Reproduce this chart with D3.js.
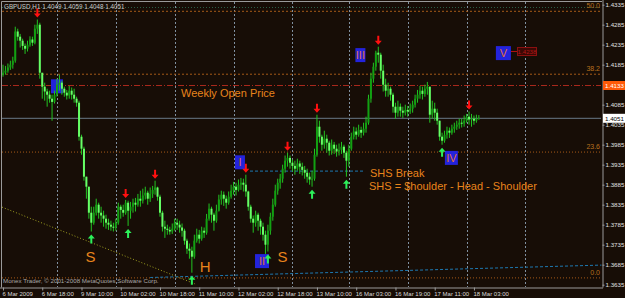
<!DOCTYPE html>
<html>
<head>
<meta charset="utf-8">
<script src="https://cdn.jsdelivr.net/npm/d3@7/dist/d3.min.js"></script>
<style>
html, body { margin: 0; padding: 0; background: #170d06; }
svg { display: block; }
text { font-family: "Liberation Sans", Arial, sans-serif; }
</style>
</head>
<body>
<svg class="chart" width="625" height="298"></svg>
<script>
// GBPUSD H1, one value per hourly bar (open = previous close)
var firstOpen = 1.4160;
var closes = [1.4165,1.4170,1.4178,1.4185,1.4195,1.4268,1.4255,1.4245,1.4232,1.4225,
    1.4235,1.4248,1.4240,1.4275,1.4285,1.4165,1.4130,1.4118,1.4110,1.4100,
    1.4092,1.4110,1.4135,1.4140,1.4125,1.4115,1.4108,1.4120,1.4110,1.4100,
    1.4090,1.4005,1.3975,1.3905,1.3880,1.3815,1.3790,1.3815,1.3835,1.3815,
    1.3808,1.3800,1.3790,1.3785,1.3780,1.3778,1.3790,1.3830,1.3822,1.3815,
    1.3840,1.3820,1.3830,1.3840,1.3835,1.3850,1.3845,1.3858,1.3865,1.3850,
    1.3862,1.3872,1.3878,1.3855,1.3815,1.3780,1.3775,1.3772,1.3768,1.3775,
    1.3790,1.3785,1.3778,1.3770,1.3745,1.3725,1.3720,1.3705,1.3745,1.3760,
    1.3750,1.3770,1.3765,1.3800,1.3825,1.3810,1.3795,1.3820,1.3848,1.3860,
    1.3850,1.3840,1.3855,1.3870,1.3880,1.3872,1.3885,1.3890,1.3885,1.3868,
    1.3830,1.3800,1.3790,1.3810,1.3795,1.3780,1.3760,1.3735,1.3770,1.3805,
    1.3835,1.3870,1.3890,1.3900,1.3925,1.3945,1.3952,1.3940,1.3932,1.3925,
    1.3938,1.3930,1.3922,1.3915,1.3905,1.3898,1.3900,1.3960,1.4030,1.4005,
    1.3985,1.4000,1.3990,1.3970,1.3985,1.3975,1.3968,1.3972,1.3980,1.3965,
    1.3945,1.3975,1.4005,1.4018,1.4010,1.4022,1.4015,1.4025,1.4040,1.4100,
    1.4150,1.4180,1.4215,1.4210,1.4170,1.4135,1.4120,1.4125,1.4110,1.4080,
    1.4065,1.4080,1.4070,1.4065,1.4072,1.4068,1.4075,1.4085,1.4100,1.4110,
    1.4120,1.4112,1.4125,1.4130,1.4060,1.4075,1.4065,1.4045,1.4005,1.3995,
    1.4010,1.4020,1.4015,1.4025,1.4030,1.4035,1.4040,1.4038,1.4045,1.4055,
    1.4048,1.4050,1.4045,1.4049,1.4051];
var highs = [1.4185,1.4182,1.4188,1.4195,1.4205,1.4280,1.4275,1.4262,1.4250,1.4238,
    1.4245,1.4256,1.4255,1.4285,1.4298,1.4290,1.4160,1.4140,1.4125,1.4120,
    1.4110,1.4120,1.4150,1.4160,1.4145,1.4130,1.4122,1.4132,1.4128,1.4125,
    1.4105,1.4095,1.4010,1.3980,1.3905,1.3880,1.3830,1.3830,1.3850,1.3840,
    1.3830,1.3820,1.3810,1.3800,1.3795,1.3790,1.3800,1.3840,1.3835,1.3835,
    1.3847,1.3845,1.3842,1.3850,1.3852,1.3862,1.3870,1.3875,1.3880,1.3870,
    1.3878,1.3882,1.3895,1.3880,1.3860,1.3820,1.3795,1.3785,1.3780,1.3788,
    1.3800,1.3800,1.3795,1.3788,1.3775,1.3750,1.3738,1.3730,1.3760,1.3775,
    1.3772,1.3780,1.3778,1.3812,1.3838,1.3830,1.3815,1.3835,1.3860,1.3870,
    1.3868,1.3858,1.3868,1.3885,1.3892,1.3890,1.3898,1.3902,1.3900,1.3910,
    1.3870,1.3835,1.3808,1.3820,1.3815,1.3800,1.3790,1.3770,1.3785,1.3815,
    1.3850,1.3885,1.3900,1.3912,1.3935,1.3958,1.3965,1.3958,1.3948,1.3945,
    1.3950,1.3945,1.3940,1.3932,1.3925,1.3915,1.3920,1.3975,1.4060,1.4045,
    1.4010,1.4020,1.4010,1.3995,1.3998,1.3992,1.3985,1.3988,1.3992,1.3985,
    1.3970,1.3985,1.4015,1.4030,1.4028,1.4035,1.4030,1.4040,1.4055,1.4110,
    1.4165,1.4190,1.4220,1.4230,1.4215,1.4185,1.4150,1.4140,1.4130,1.4115,
    1.4090,1.4095,1.4088,1.4080,1.4085,1.4082,1.4088,1.4095,1.4110,1.4122,
    1.4132,1.4130,1.4135,1.4142,1.4130,1.4095,1.4090,1.4075,1.4045,1.4015,
    1.4020,1.4030,1.4028,1.4035,1.4040,1.4045,1.4050,1.4050,1.4058,1.4062,
    1.4068,1.4062,1.4058,1.4060,1.4059];
var lows = [1.4155,1.4160,1.4165,1.4172,1.4175,1.4190,1.4245,1.4228,1.4222,1.4212,
    1.4218,1.4230,1.4232,1.4236,1.4262,1.4150,1.4100,1.4095,1.4080,1.4090,
    1.4045,1.4088,1.4105,1.4120,1.4110,1.4105,1.4098,1.4100,1.4098,1.4090,
    1.4080,1.3995,1.3960,1.3895,1.3850,1.3800,1.3768,1.3785,1.3808,1.3800,
    1.3790,1.3780,1.3775,1.3772,1.3770,1.3768,1.3770,1.3785,1.3800,1.3805,
    1.3810,1.3782,1.3800,1.3815,1.3818,1.3830,1.3830,1.3838,1.3848,1.3835,
    1.3842,1.3852,1.3860,1.3845,1.3805,1.3768,1.3752,1.3760,1.3760,1.3762,
    1.3770,1.3772,1.3765,1.3755,1.3735,1.3712,1.3700,1.3665,1.3700,1.3740,
    1.3738,1.3745,1.3752,1.3760,1.3795,1.3790,1.3770,1.3790,1.3818,1.3835,
    1.3832,1.3825,1.3835,1.3850,1.3860,1.3858,1.3868,1.3872,1.3868,1.3855,
    1.3820,1.3790,1.3765,1.3780,1.3770,1.3760,1.3745,1.3712,1.3718,1.3760,
    1.3795,1.3830,1.3860,1.3875,1.3890,1.3915,1.3930,1.3925,1.3918,1.3910,
    1.3920,1.3912,1.3908,1.3900,1.3890,1.3885,1.3880,1.3895,1.3955,1.3990,
    1.3970,1.3975,1.3965,1.3958,1.3960,1.3962,1.3955,1.3958,1.3962,1.3952,
    1.3905,1.3930,1.3970,1.3998,1.3998,1.4005,1.4002,1.4008,1.4015,1.4035,
    1.4090,1.4140,1.4170,1.4190,1.4150,1.4118,1.4105,1.4105,1.4095,1.4065,
    1.4050,1.4055,1.4055,1.4052,1.4058,1.4055,1.4062,1.4065,1.4078,1.4090,
    1.4100,1.4098,1.4105,1.4110,1.4040,1.4050,1.4045,1.4035,1.3995,1.3985,
    1.3990,1.4000,1.4002,1.4010,1.4015,1.4022,1.4025,1.4028,1.4030,1.4040,
    1.4035,1.4030,1.4035,1.4040,1.4048];

var timeLabels = ["6 Mar 2009","6 Mar 18:00","9 Mar 10:00","10 Mar 02:00","10 Mar 18:00",
    "11 Mar 10:00","12 Mar 02:00","12 Mar 18:00","13 Mar 10:00","16 Mar 03:00",
    "16 Mar 19:00","17 Mar 11:00","18 Mar 03:00"];
var timeLabelBars = [0,16,32,48,64,80,96,112,128,144,160,176,192];
var dayStartBars = [22,46,70,94,118,141,165,189,213];
var priceTicks = [1.3635,1.3685,1.3735,1.3785,1.3835,1.3885,1.3935,1.3985,1.4035,
    1.4085,1.4185,1.4235,1.4285,1.4335];

var fibNames = ["0.0","23.6","38.2","50.0"];
var fibRatios = [0, 0.236, 0.382, 0.5];
var fibLow = 1.3652, fibHigh = 1.4985;
var weeklyOpen = 1.4133;
var lastPrice = 1.4051;

var redArrowBars = [14,50,62,99,116,128,153,190];
var greenArrowBars = [36,51,77,108,126,140,179];

var waveLabels = ["", "I", "II", "III", "IV", "V"];
var waveBars = [22.0, 96.6, 105.6, 145.7, 182.8, 204];
var wavePrices = [1.4131, 1.3941, 1.3694, 1.4209, 1.3952, 1.4214];
var waveBoxW = [12, 10, 14, 10, 13, 15];

var shsLetters = ["S","H","S"];
var shsBars = [35.7, 82.4, 114];
var shsPrices = [1.3692, 1.3667, 1.3692];

var necklineBars = [100.7, 147.6], necklinePrice = 1.3919;
var blueTrendBars = [60, 244], blueTrendPrices = [1.3653, 1.3684];
var yellowTrendBars = [-0.4, 78.3], yellowTrendPrices = [1.3829, 1.3637];

// scales
var x = d3.scaleLinear().domain([0, 244]).range([3, 601.5]);
var y = d3.scaleLinear().domain([1.3635, 1.4335]).range([284.7, 4.7]);

var svg = d3.select(".chart");
var orange = "#e8841c";

svg.append("rect").attr("width", 625).attr("height", 298).attr("fill", "#170d06");

// frame
svg.append("line").attr("x1", 1.5).attr("x2", 602).attr("y1", 1.5).attr("y2", 1.5)
    .attr("stroke", "#9a9a9a");
svg.append("line").attr("x1", 1.5).attr("x2", 1.5).attr("y1", 1.5).attr("y2", 287.5)
    .attr("stroke", "#9a9a9a");
svg.append("line").attr("x1", 2).attr("x2", 602).attr("y1", 7.5).attr("y2", 7.5)
    .attr("stroke", "#2b5d45").attr("stroke-dasharray", "1,2");

// day separators
svg.append("g").selectAll("line").data(dayStartBars).enter().append("line")
    .attr("x1", function(d) { return Math.round(x(d)) + 0.5; })
    .attr("x2", function(d) { return Math.round(x(d)) + 0.5; })
    .attr("y1", 2).attr("y2", 287)
    .attr("stroke", "#8090a0").attr("stroke-dasharray", "2,2");

// fibonacci levels
svg.append("g").selectAll("line").data(fibRatios).enter().append("line")
    .attr("x1", 2).attr("x2", 601)
    .attr("y1", function(d) { return y(fibLow + d * (fibHigh - fibLow)); })
    .attr("y2", function(d) { return y(fibLow + d * (fibHigh - fibLow)); })
    .attr("stroke", "#a55a18").attr("stroke-dasharray", function(d) { return d < 0.3 ? "1,2" : "2,2"; });
svg.append("g").selectAll("text").data(fibRatios).enter().append("text")
    .attr("x", 600).attr("y", function(d) { return y(fibLow + d * (fibHigh - fibLow)) - 3; })
    .attr("text-anchor", "end").attr("font-size", 7).attr("fill", "#b8701e")
    .text(function(d, i) { return fibNames[i]; });

// weekly open and last price lines
svg.append("line").attr("x1", 2).attr("x2", 601)
    .attr("y1", y(weeklyOpen)).attr("y2", y(weeklyOpen))
    .attr("stroke", "#a8281c").attr("stroke-dasharray", "6,2,1,2");
svg.append("line").attr("x1", 2).attr("x2", 601)
    .attr("y1", y(lastPrice)).attr("y2", y(lastPrice))
    .attr("stroke", "#6a7a88");

// trend lines
svg.append("line")
    .attr("x1", x(yellowTrendBars[0])).attr("y1", y(yellowTrendPrices[0]))
    .attr("x2", x(yellowTrendBars[1])).attr("y2", y(yellowTrendPrices[1]))
    .attr("stroke", "#a0a020").attr("stroke-dasharray", "1,2");
svg.append("line")
    .attr("x1", x(blueTrendBars[0])).attr("y1", y(blueTrendPrices[0]))
    .attr("x2", x(blueTrendBars[1])).attr("y2", y(blueTrendPrices[1]))
    .attr("stroke", "#1e78b0").attr("stroke-dasharray", "3,2");
svg.append("line")
    .attr("x1", x(necklineBars[0])).attr("x2", x(necklineBars[1]))
    .attr("y1", y(necklinePrice)).attr("y2", y(necklinePrice))
    .attr("stroke", "#1e78b0").attr("stroke-dasharray", "3,2");

// wave boxes (behind the bars)
var boxes = svg.append("g").selectAll("g").data(waveBars).enter().append("g")
    .attr("transform", function(d, i) { return "translate(" + x(d) + "," + y(wavePrices[i]) + ")"; });
boxes.append("rect")
    .attr("x", function(d, i) { return -waveBoxW[i] / 2; }).attr("y", -7)
    .attr("width", function(d, i) { return waveBoxW[i]; }).attr("height", 14)
    .attr("fill", "#2323dc");
boxes.append("text").attr("y", 4).attr("text-anchor", "middle")
    .attr("font-size", 11).attr("fill", "#e0703a")
    .text(function(d, i) { return waveLabels[i]; });

// candles
var bars = closes.map(function(c, i) {
    return {i: i, o: i === 0 ? firstOpen : closes[i - 1], h: highs[i], l: lows[i], c: c};
});
var candles = svg.append("g").selectAll("g").data(bars).enter().append("g");
candles.append("line")
    .attr("x1", function(d) { return x(d.i); }).attr("x2", function(d) { return x(d.i); })
    .attr("y1", function(d) { return y(d.h); }).attr("y2", function(d) { return y(d.l); })
    .attr("stroke", "#22c422").attr("stroke-width", 1);
candles.append("rect")
    .attr("x", function(d) { return x(d.i) - 1; }).attr("width", 2)
    .attr("y", function(d) { return y(Math.max(d.o, d.c)); })
    .attr("height", function(d) { return Math.max(1, Math.abs(y(d.o) - y(d.c))); })
    .attr("fill", function(d) { return d.c < d.o ? "#66ff66" : "#12a012"; });

// fractal arrows
function arrow(down) {
    return down ? "M-1,-8L1,-8L1,-3L3.5,-3L0,1L-3.5,-3L-1,-3Z"
                : "M-1,8L1,8L1,3L3.5,3L0,-1L-3.5,3L-1,3Z";
}
svg.append("g").selectAll("path").data(redArrowBars).enter().append("path")
    .attr("transform", function(d) { return "translate(" + x(d) + "," + (y(highs[d]) - 3) + ")"; })
    .attr("d", arrow(true)).attr("fill", "#ff1010");
svg.append("g").selectAll("path").data(greenArrowBars).enter().append("path")
    .attr("transform", function(d) { return "translate(" + x(d) + "," + (y(lows[d]) + 4) + ")"; })
    .attr("d", arrow(false)).attr("fill", "#2cf05a");

// S-H-S letters
svg.append("g").selectAll("text").data(shsBars).enter().append("text")
    .attr("x", function(d) { return x(d); })
    .attr("y", function(d, i) { return y(shsPrices[i]); })
    .attr("text-anchor", "middle").attr("font-size", 15).attr("fill", orange)
    .text(function(d, i) { return shsLetters[i]; });

// annotations
svg.append("text").attr("x", 181).attr("y", 97).attr("font-size", 11).attr("fill", orange)
    .text("Weekly Open Price");
svg.append("text").attr("x", 370).attr("y", 177).attr("font-size", 11).attr("fill", orange)
    .text("SHS Break");
svg.append("text").attr("x", 369).attr("y", 190).attr("font-size", 11).attr("fill", orange)
    .text("SHS = $houlder - Head - Shoulder");

// V price tag
svg.append("line").attr("x1", 511).attr("x2", 517).attr("y1", 51.5).attr("y2", 51.5)
    .attr("stroke", "#b01010");
svg.append("rect").attr("x", 517.5).attr("y", 47.5).attr("width", 19).attr("height", 8)
    .attr("fill", "#3a0804").attr("stroke", "#8a1010");
svg.append("text").attr("x", 527).attr("y", 54).attr("text-anchor", "middle")
    .attr("font-size", 6.2).attr("fill", "#b01818").text("1.4238");

// header and copyright
svg.append("text").attr("x", 4).attr("y", 8.5).attr("font-size", 6.3).attr("fill", "#c8c8c8")
    .text("GBPUSD,H1  1.4049 1.4059 1.4048 1.4051");
svg.append("text").attr("x", 3).attr("y", 283).attr("font-size", 6.2).attr("fill", "#a8a8a8")
    .text("Monex Trader, \u00a9 2001-2008 MetaQuotes Software Corp.");

// price axis
var yAxis = svg.append("g").attr("transform", "translate(602.5,0)")
    .call(d3.axisRight(y).tickValues(priceTicks).tickSize(2).tickPadding(1)
        .tickFormat(d3.format(".4f")));
yAxis.select(".domain").attr("stroke", "#9a9a9a").attr("d", "M0.5,0V287.5");
yAxis.selectAll(".tick line").attr("stroke", "#9a9a9a");
yAxis.selectAll(".tick text").attr("fill", "#e0e0e0").attr("font-size", 6.2)
    .attr("font-family", "Liberation Sans, Arial, sans-serif");

// price tags on the axis
svg.append("rect").attr("x", 603).attr("y", y(weeklyOpen) - 4.5).attr("width", 22).attr("height", 9)
    .attr("fill", "#ff5a08");
svg.append("text").attr("x", 605).attr("y", y(weeklyOpen) + 2.3).attr("font-size", 6.2)
    .attr("fill", "#ffffff").text(d3.format(".4f")(weeklyOpen));
svg.append("rect").attr("x", 603).attr("y", y(lastPrice) - 4.5).attr("width", 22).attr("height", 9)
    .attr("fill", "#ffffff");
svg.append("text").attr("x", 605).attr("y", y(lastPrice) + 2.3).attr("font-size", 6.2)
    .attr("fill", "#000000").text(d3.format(".4f")(lastPrice));

// time axis
var xAxis = svg.append("g").attr("transform", "translate(0,287.5)")
    .call(d3.axisBottom(x).tickValues(timeLabelBars).tickSize(3).tickPadding(1)
        .tickFormat(function(d, i) { return timeLabels[i]; }));
xAxis.select(".domain").attr("stroke", "#9a9a9a").attr("d", "M0,0.5H603");
xAxis.selectAll(".tick line").attr("stroke", "#9a9a9a");
xAxis.selectAll(".tick text").attr("fill", "#d8d8d8").attr("font-size", 6)
    .attr("text-anchor", "start").attr("x", -1)
    .attr("font-family", "Liberation Sans, Arial, sans-serif");
</script>
</body>
</html>
